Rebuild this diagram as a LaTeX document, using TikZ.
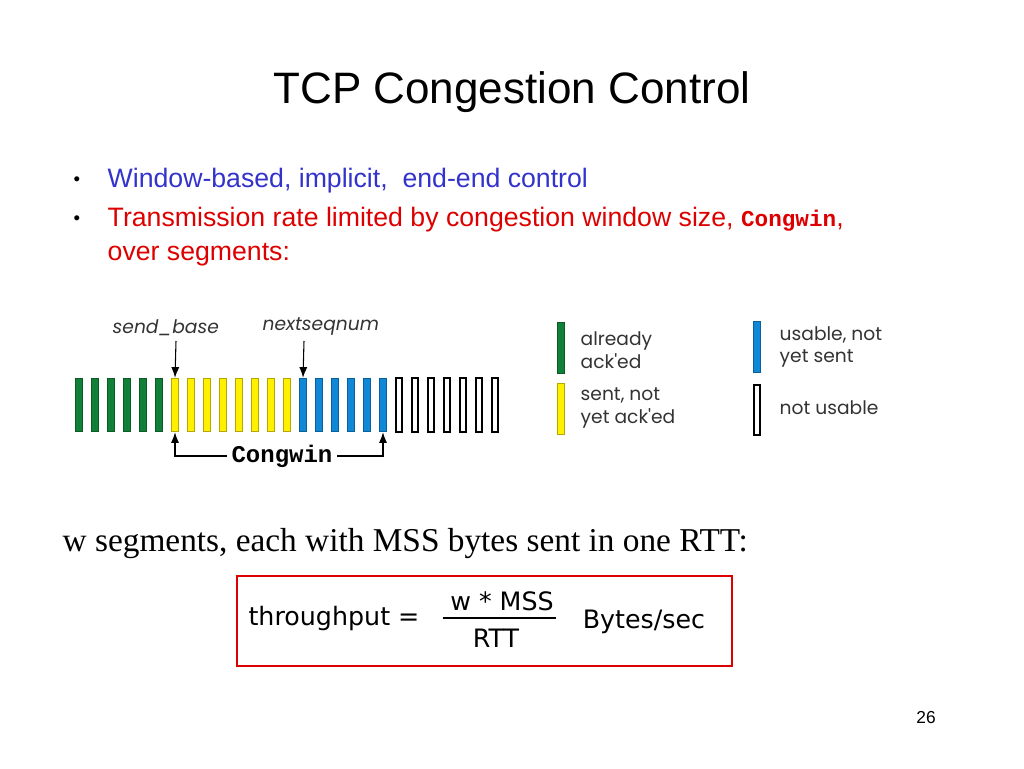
\documentclass[tikz,border=0pt]{standalone}
\usepackage{fontspec}
\usetikzlibrary{arrows.meta}
\setmainfont{Liberation Sans}
\newfontfamily\timesf{Liberation Serif}
\newfontfamily\courf{Liberation Mono}
\newfontfamily\legf{Poppins}
\newfontfamily\dejf{DejaVu Sans}
\definecolor{bblue}{RGB}{51,51,204}
\definecolor{rred}{RGB}{221,0,0}
\definecolor{gbar}{RGB}{16,128,56}
\definecolor{ybar}{RGB}{255,240,0}
\definecolor{bbar}{RGB}{16,136,216}
\begin{document}
\begin{tikzpicture}[x=0.75pt,y=-0.75pt,
  bar/.style={draw=#1!70!black,fill=#1,line width=0.8pt,minimum width=5.5pt,minimum height=40pt,inner sep=0pt},
  wbar/.style={draw=black,fill=white,line width=1.6pt,minimum width=5pt,minimum height=40pt,inner sep=0pt},
  lbl/.style={font=\legf\fontsize{14}{15}\selectfont\itshape,anchor=west,text=black!80},
  leg/.style={font=\legf\fontsize{14}{17}\selectfont,anchor=west,align=left,text=black!80},
  arr/.style={-{Latex[length=8pt,width=6pt]},line width=0.8pt}]
\useasboundingbox (0,0) rectangle (1024,768);
\node (title) at (512,92) {\fontsize{33}{36}\selectfont TCP Congestion Control};
\node (b1) at (77,181) {\fontsize{14}{16}\selectfont\textbullet};
\node[anchor=west,text=bblue] (t1) at (103,181) {\fontsize{20}{24}\selectfont Window-based, implicit,\ \ end-end control};
\node (b2) at (77,220) {\fontsize{14}{16}\selectfont\textbullet};
\node[anchor=west,text=rred] (t2) at (103,220) {\fontsize{20}{24}\selectfont Transmission rate limited by congestion window size, {\courf\bfseries\fontsize{17}{20}\selectfont Congwin},};
\node[anchor=west,text=rred] (t3) at (103,255) {\fontsize{20}{24}\selectfont over segments:};
% bars
\foreach \i in {0,...,5} \node[bar=gbar] (g\i) at (79+16*\i,405) {};
\foreach \i in {0,...,7} \node[bar=ybar] (y\i) at (175+16*\i,405) {};
\foreach \i in {0,...,5} \node[bar=bbar] (u\i) at (303+16*\i,405) {};
\foreach \i in {0,...,6} \node[wbar] (w\i) at (399+16*\i,405) {};
\node[lbl] (sb) at (108,328) {send\_base};
\node[lbl] (ns) at (258,327) {nextseqnum};
\draw[arr] (176,341) -- (y0.north);
\draw[arr] (304,341) -- (u0.north);
\node[font=\courf\bfseries\fontsize{18}{18}\selectfont] (cw) at (282,456) {Congwin};
\draw[arr] (cw.west) -- (175,456) -- (y0.south);
\draw[arr] (cw.east) -- (383,456) -- (u5.south);
% legend
\node[bar=gbar,minimum height=38pt] (lg) at (561,348) {};
\node[bar=ybar,minimum height=38pt] (ly) at (561,409) {};
\node[bar=bbar,minimum height=38pt] (lb) at (757,347) {};
\node[wbar,minimum height=37pt] (lw) at (757,410) {};
\node[leg] (lgt) at (576,350) {already\\ack'ed};
\node[leg] (lyt) at (576,408) {sent, not\\yet ack'ed};
\node[leg] (lbt) at (775,347) {usable, not\\yet sent};
\node[leg] (lwt) at (775,408) {not usable};
% formula
\node[anchor=west,font=\timesf\fontsize{25}{28}\selectfont] (ws) at (58,544) {w segments, each with MSS bytes sent in one RTT:};
\draw[rred,line width=1.5pt] (237,576) rectangle (732,666);
\node[font=\dejf\fontsize{19}{22}\selectfont] (tp) at (334,618) {throughput =};
\node[font=\dejf\fontsize{19}{22}\selectfont] (num) at (502,601) {w * MSS};
\node[font=\dejf\fontsize{19}{22}\selectfont] (den) at (496,638) {RTT};
\draw[line width=1.2pt] (443,618) -- (556,618);
\node[font=\dejf\fontsize{19}{22}\selectfont] (bs) at (644,622) {Bytes/sec};
\node (pg) at (926,718) {\fontsize{13}{15}\selectfont 26};
\end{tikzpicture}
\end{document}
